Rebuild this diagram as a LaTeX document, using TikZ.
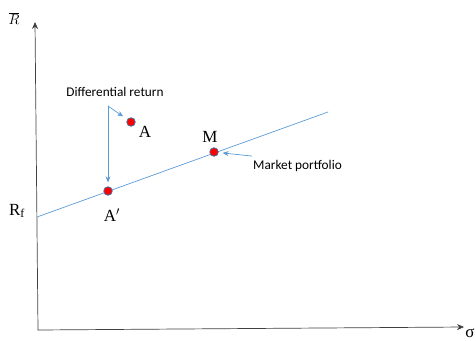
\documentclass[tikz,border=0pt]{standalone}
\usepackage{fontspec}
\setmainfont{Liberation Serif}
\newfontfamily\calib{Carlito}
\usepackage{tikz}
\usetikzlibrary{arrows.meta}
\usepackage{xcolor}
\definecolor{cmlblue}{HTML}{5B9BD5}
\definecolor{ptedge}{HTML}{41719C}

\tikzset{
  pt/.style={circle,fill=red,draw=ptedge,line width=0.8pt,inner sep=0pt,minimum size=8.5pt},
  lbl/.style={font=\fontsize{17}{18}\selectfont,inner sep=1pt},
  note/.style={font=\calib\fontsize{13.3}{15}\selectfont,inner sep=1pt},
  callout/.style={cmlblue,line width=0.7pt,-{Stealth[length=6pt,width=5pt]}}
}

\begin{document}
\begin{tikzpicture}[x=1pt,y=-1pt,line cap=round]
\useasboundingbox (0,0) rectangle (476,340);
% axes
\coordinate (O) at (38,330);
\coordinate (ytop) at (35,22);
\coordinate (xend) at (464,327);
\draw[black!75,line width=0.7pt,-{Stealth[length=7pt,width=6pt]}] (O) -- (ytop);
\draw[black!75,line width=0.7pt,-{Stealth[length=7pt,width=6pt]}] (O) -- (xend);
\node[font=\fontsize{15}{16}\selectfont,inner sep=0pt] (Rbar) at (14,19) {$\overline{R}$};
\node[lbl] (sig) at (470,333) {σ};
\node[lbl] (Rf) at (17,211) {R\textsubscript{f}};
% capital market line
\coordinate (rf) at (37,217);
\coordinate (cmlend) at (328,112);
\draw[cmlblue,line width=0.7pt] (rf) -- (cmlend);
% portfolios
\node[pt] (A) at (131,122) {};
\node[pt] (Ap) at (108,191) {};
\node[pt] (M) at (214,152) {};
\node[lbl] (Alab) at (145,132) {A};
\node[lbl] (Aplab) at (112,215) {A$'$};
\node[lbl] (Mlab) at (210,137) {M};
% callouts
\node[note] (dr) at (115,92) {Differential return};
\coordinate (drfork) at (108,106);
\draw[callout,shorten >=5pt] (drfork) -- (A);
\draw[callout,shorten >=4pt] (drfork) -- (Ap);
\node[note,anchor=west] (mp) at (252,166) {Market portfolio};
\draw[callout,shorten >=4pt] ([yshift=3pt]mp.north west) -- (M);
\end{tikzpicture}
\end{document}
